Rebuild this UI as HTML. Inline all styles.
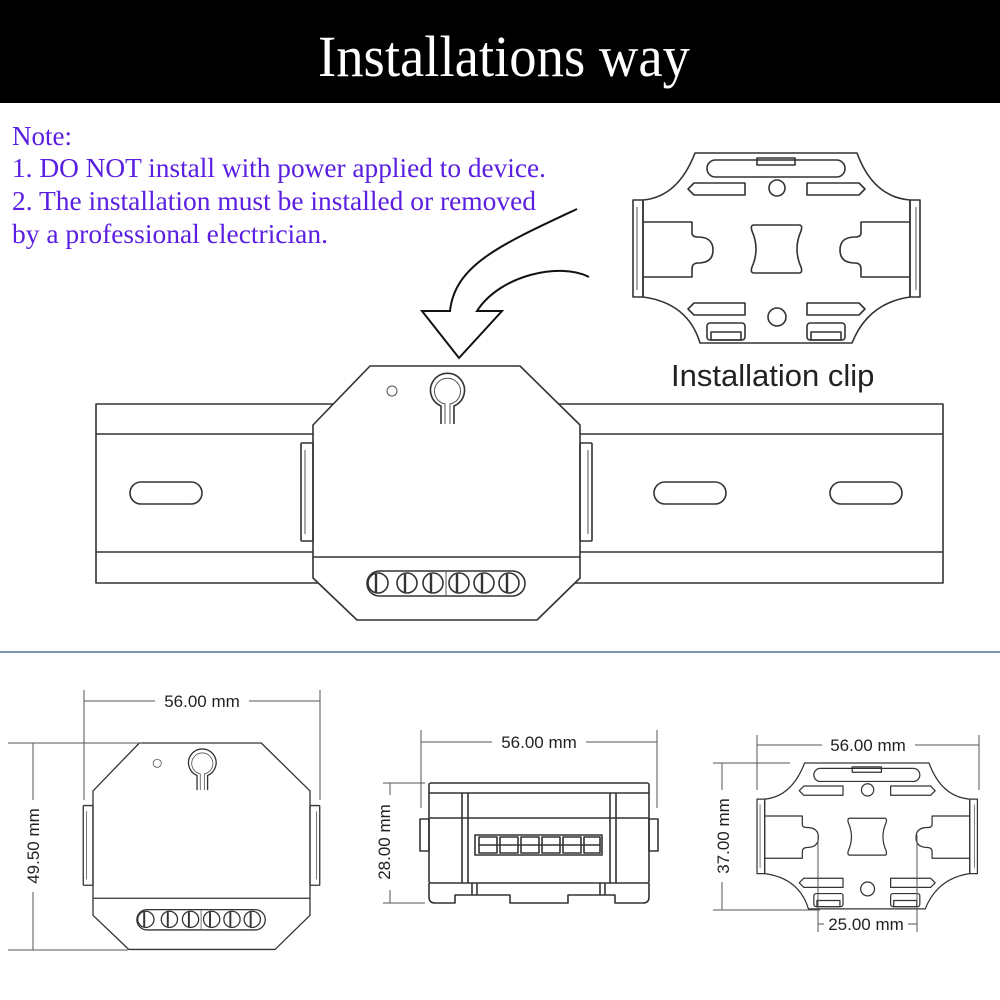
<!DOCTYPE html>
<html><head><meta charset="utf-8"><style>
html,body{margin:0;padding:0;background:#fff;}
svg{display:block;}
.s{fill:none;stroke:#333;stroke-width:1.6;stroke-linejoin:round;}
.t{fill:none;stroke:#555;stroke-width:1;}
.d{font-family:"Liberation Sans",sans-serif;font-size:17px;fill:#222;}
</style></head><body>
<svg width="1000" height="1000" viewBox="0 0 1000 1000" xmlns="http://www.w3.org/2000/svg">
<defs>
<g id="dev">
  <path class="s" d="M370,366 L520,366 L580,425 L580,557 L580,578 L537,620 L357,620 L313,578 L313,425 Z" stroke-width="2"/>
  <line class="s" x1="313" y1="557" x2="580" y2="557" stroke-width="2.4"/>
  <rect class="s" x="301" y="443" width="12" height="98" rx="1"/>
  <rect class="s" x="580" y="443" width="12" height="98" rx="1"/>
  <line class="t" x1="305" y1="450" x2="305" y2="534"/>
  <line class="t" x1="588" y1="450" x2="588" y2="534"/>
  <circle class="t" cx="392" cy="391" r="5" stroke-width="1.4"/>
  <path class="s" d="M441,424 L441,406 A17,17 0 1 1 454,406 L454,424" stroke-width="2"/>
  <path class="t" d="M445,424 L445,404 A13,13 0 1 1 450,404 L450,424"/>
  <rect class="s" x="367" y="571" width="158" height="25" rx="12.5"/>
  <line class="t" x1="446" y1="572" x2="446" y2="595"/>
  <g class="s" stroke-width="2.6">
   <circle cx="378" cy="583" r="10"/><circle cx="407" cy="583" r="10"/><circle cx="433" cy="583" r="10"/>
   <circle cx="459" cy="583" r="10"/><circle cx="484" cy="583" r="10"/><circle cx="509" cy="583" r="10"/>
  </g>
  <g stroke="#333" stroke-width="2.4">
   <line x1="376" y1="574" x2="376" y2="592"/><line x1="405" y1="574" x2="405" y2="592"/><line x1="431" y1="574" x2="431" y2="592"/>
   <line x1="457" y1="574" x2="457" y2="592"/><line x1="482" y1="574" x2="482" y2="592"/><line x1="507" y1="574" x2="507" y2="592"/>
  </g>
</g>
<g id="clip">
  <path class="s" d="M62,0 L224,0 Q240,44 277,47 L277,144 Q235,150 219,190 L67,190 Q55,150 10,144 L10,47 Q45,44 62,0 Z" stroke-width="1.3"/>
  <rect class="s" x="0" y="47" width="10" height="97"/>
  <rect class="s" x="277" y="47" width="10" height="97"/>
  <line class="t" x1="4" y1="54" x2="4" y2="137"/>
  <line class="t" x1="283" y1="54" x2="283" y2="137"/>
  <rect class="s" x="74" y="7" width="138" height="17" rx="8.5" stroke-width="2"/>
  <rect class="s" x="124" y="5" width="38" height="7"/>
  <circle class="s" cx="144" cy="35" r="8"/>
  <path class="s" d="M55,36 L61,30 L112,30 L112,42 L61,42 Z"/>
  <path class="s" d="M174,30 L226,30 L232,36 L226,42 L174,42 Z"/>
  <path class="s" d="M10,69 L59,69 L59,80 Q59,84 65,84 Q80,84 80,97 Q80,110 65,110 Q59,110 59,116 L59,124 L10,124"/>
  <path class="s" d="M277,69 L228,69 L228,80 Q228,84 222,84 Q207,84 207,97 Q207,110 222,110 Q228,110 228,116 L228,124 L277,124"/>
  <path class="s" d="M121,72 L166,72 Q170,72 168,78 Q160,96 168,114 Q170,120 166,120 L121,120 Q117,120 119,114 Q127,96 119,78 Q117,72 121,72 Z" stroke-width="2"/>
  <path class="s" d="M55,156 L61,150 L112,150 L112,162 L61,162 Z"/>
  <path class="s" d="M174,150 L226,150 L232,156 L226,162 L174,162 Z"/>
  <circle class="s" cx="144" cy="164" r="9"/>
  <rect class="s" x="74" y="170" width="38" height="17" rx="3" stroke-width="2"/>
  <rect class="s" x="78" y="179" width="30" height="8"/>
  <rect class="s" x="174" y="170" width="38" height="17" rx="3" stroke-width="2"/>
  <rect class="s" x="178" y="179" width="30" height="8"/>
</g>
</defs>

<rect x="0" y="0" width="1000" height="103" fill="#000"/>
<text x="318" y="76" textLength="372" lengthAdjust="spacingAndGlyphs" font-family="Liberation Serif,serif" font-size="58" fill="#fff">Installations way</text>

<g font-family="Liberation Serif,serif" font-size="27" fill="#5a1fe0">
<text x="12" y="145" textLength="60" lengthAdjust="spacingAndGlyphs">Note:</text>
<text x="12" y="177" textLength="534" lengthAdjust="spacingAndGlyphs">1. DO NOT install with power applied to device.</text>
<text x="12" y="210" textLength="524" lengthAdjust="spacingAndGlyphs">2. The installation must be installed or removed</text>
<text x="12" y="243" textLength="316" lengthAdjust="spacingAndGlyphs">by a professional electrician.</text>
</g>

<use href="#clip" transform="translate(633,153)"/>
<text x="671" y="386" font-family="Liberation Sans,sans-serif" font-size="31" fill="#222">Installation clip</text>

<path fill="none" stroke="#111" stroke-width="2" stroke-linejoin="miter" d="M577,209 C500,245 455,265 450,311 L422,311 L459,358 L502,311 L477,311 C500,275 560,262 589,277"/>

<!-- DIN rail -->
<rect class="s" x="96" y="404" width="847" height="179" stroke-width="1.4"/>
<line x1="96" y1="434" x2="943" y2="434" stroke="#333" stroke-width="1.4"/>
<line x1="96" y1="552" x2="943" y2="552" stroke="#333" stroke-width="1.4"/>
<rect class="s" x="130" y="482" width="72" height="22" rx="11" stroke-width="1.4"/>
<rect class="s" x="654" y="482" width="72" height="22" rx="11" stroke-width="1.4"/>
<rect class="s" x="830" y="482" width="72" height="22" rx="11" stroke-width="1.4"/>
<path d="M370,366 L520,366 L580,425 L580,578 L537,620 L357,620 L313,578 L313,425 Z" fill="#fff"/>
<use href="#dev"/>

<line x1="0" y1="652" x2="1000" y2="652" stroke="#2e5a7a" stroke-width="1.2"/>

<!-- bottom left device -->
<g transform="translate(93,743) scale(0.8127) translate(-313,-366)"><use href="#dev"/></g>
<g class="t">
<line x1="84" y1="690" x2="84" y2="800"/><line x1="320" y1="690" x2="320" y2="800"/>
<line x1="84" y1="701" x2="155" y2="701"/><line x1="249" y1="701" x2="320" y2="701"/>
<line x1="8" y1="743" x2="142" y2="743"/><line x1="8" y1="950" x2="128" y2="950"/>
<line x1="33" y1="743" x2="33" y2="800"/><line x1="33" y1="892" x2="33" y2="950"/>
</g>
<text class="d" x="202" y="707" text-anchor="middle">56.00 mm</text>
<text class="d" transform="translate(39,846) rotate(-90)" text-anchor="middle">49.50 mm</text>

<!-- middle side view -->
<g class="s" stroke-width="1.3">
<rect x="429" y="783" width="220" height="100" rx="2"/>
<line x1="429" y1="793" x2="649" y2="793"/>
<line x1="429" y1="818" x2="649" y2="818"/>
<line x1="462" y1="793" x2="462" y2="883"/><line x1="468" y1="793" x2="468" y2="883"/>
<line x1="610" y1="793" x2="610" y2="883"/><line x1="616" y1="793" x2="616" y2="883"/>
<rect x="420" y="819" width="9" height="32"/><rect x="649" y="819" width="9" height="32"/>
<path d="M429,883 L429,897 Q429,903 435,903 L455,903 L455,895 L510,895 L510,903 L568,903 L568,895 L615,895 L615,903 L643,903 Q649,903 649,897 L649,883"/>
<line x1="472" y1="883" x2="472" y2="895"/><line x1="477" y1="883" x2="477" y2="895"/>
<line x1="600" y1="883" x2="600" y2="895"/><line x1="605" y1="883" x2="605" y2="895"/>
<rect x="475" y="835" width="127" height="20" stroke-width="1.6"/>
</g>
<g class="s" stroke-width="1.6">
<rect x="479" y="837" width="18" height="16"/><rect x="500" y="837" width="18" height="16"/><rect x="521" y="837" width="18" height="16"/>
<rect x="542" y="837" width="18" height="16"/><rect x="563" y="837" width="18" height="16"/><rect x="584" y="837" width="16" height="16"/>
<line x1="479" y1="845" x2="600" y2="845"/>
</g>
<g class="t">
<line x1="421" y1="730" x2="421" y2="808"/><line x1="657" y1="730" x2="657" y2="808"/>
<line x1="421" y1="742" x2="492" y2="742"/><line x1="586" y1="742" x2="657" y2="742"/>
<line x1="383" y1="783" x2="425" y2="783"/><line x1="383" y1="903" x2="425" y2="903"/>
<line x1="390" y1="783" x2="390" y2="795"/><line x1="390" y1="890" x2="390" y2="903"/>
</g>
<text class="d" x="539" y="748" text-anchor="middle">56.00 mm</text>
<text class="d" transform="translate(390,842) rotate(-90)" text-anchor="middle">28.00 mm</text>

<!-- right clip -->
<g transform="translate(757,763) scale(0.768)"><use href="#clip"/></g>
<g class="t">
<line x1="757" y1="735" x2="757" y2="790"/><line x1="979" y1="735" x2="979" y2="790"/>
<line x1="757" y1="745" x2="822" y2="745"/><line x1="915" y1="745" x2="979" y2="745"/>
<line x1="713" y1="763" x2="790" y2="763"/><line x1="713" y1="910" x2="820" y2="910"/>
<line x1="722" y1="763" x2="722" y2="790"/><line x1="722" y1="882" x2="722" y2="910"/>
<line x1="818" y1="835" x2="818" y2="932"/><line x1="917" y1="835" x2="917" y2="932"/>
<line x1="818" y1="924" x2="824" y2="924"/><line x1="908" y1="924" x2="917" y2="924"/>
</g>
<text class="d" x="868" y="751" text-anchor="middle">56.00 mm</text>
<text class="d" transform="translate(729,836) rotate(-90)" text-anchor="middle">37.00 mm</text>
<text class="d" x="866" y="930" text-anchor="middle">25.00 mm</text>
</svg>
</body></html>
